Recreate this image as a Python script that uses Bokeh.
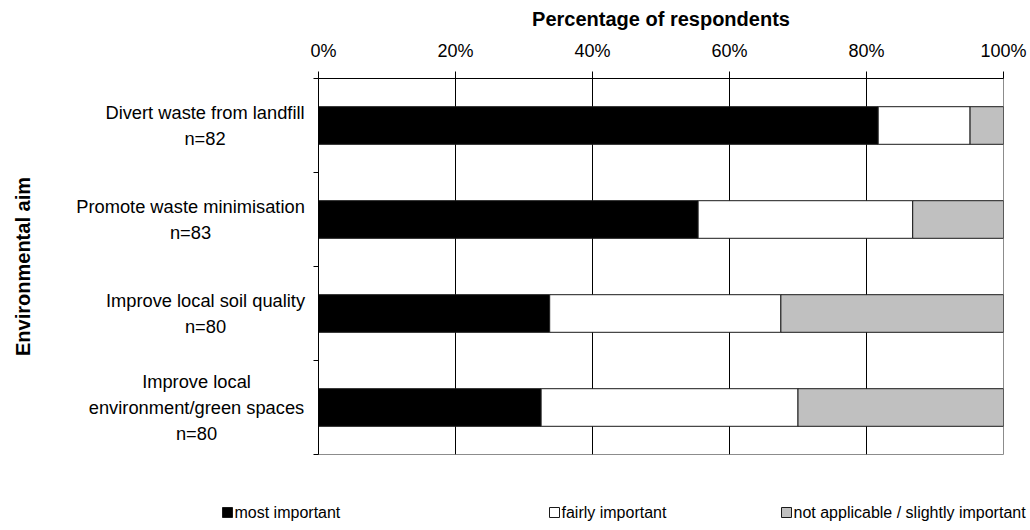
import math
from bokeh.plotting import figure
from bokeh.layouts import column, row
from bokeh.models import FixedTicker, Range1d
from bokeh.core.properties import value
from bokeh.embed import file_html
from bokeh.resources import INLINE

# Survey responses per environmental aim (counts of respondents)
aims = [
    "Divert waste from landfill\nn=82",
    "Promote waste minimisation\nn=83",
    "Improve local soil quality\nn=80",
    "Improve local\nenvironment/green spaces\nn=80",
]
n_resp = [82, 83, 80, 80]
most_important = [67, 46, 27, 26]
fairly_important = [11, 26, 27, 30]
not_applicable = [4, 11, 26, 24]

x_ticks = [0, 20, 40, 60, 80, 100]
x_tick_labels = ["0%", "20%", "40%", "60%", "80%", "100%"]
series_names = ["most important", "fairly important", "not applicable / slightly important"]
series_colors = ["#000000", "#FFFFFF", "#C0C0C0"]

FONT = "Liberation Sans"
BAR_LINE = "#1a1a1a"
TOP, BOTTOM = 78, 30
LABEL_W = 310

# Convert counts to percentages and stack them
pct = [[c / n * 100 for c, n in zip(series, n_resp)]
       for series in (most_important, fairly_important, not_applicable)]
n_cat = len(aims)
ys = [n_cat - i - 0.5 for i in range(n_cat)]
y_range = Range1d(0, n_cat)

# ---- main chart -------------------------------------------------------
p = figure(width=1030 - LABEL_W, height=484, output_backend="svg", toolbar_location=None,
           x_range=Range1d(0, 100), y_range=y_range,
           x_axis_location="above",
           min_border_left=8, min_border_right=27,
           min_border_top=TOP, min_border_bottom=BOTTOM)

left = [0.0] * n_cat
for vals, color in zip(pct, series_colors):
    right = [l + v for l, v in zip(left, vals)]
    p.hbar(y=ys, left=left, right=right, height=0.4,
           fill_color=color, line_color=BAR_LINE, line_width=1)
    left = right

p.outline_line_color = "#8c8c8c"
p.ygrid.visible = False
p.xgrid.ticker = FixedTicker(ticks=[20, 40, 60, 80, 100])
p.xgrid.grid_line_color = "black"
p.xgrid.grid_line_width = 1

xa = p.xaxis[0]
xa.ticker = FixedTicker(ticks=x_ticks)
xa.major_label_overrides = {t: lab for t, lab in zip(x_ticks, x_tick_labels)}
xa.major_label_text_font = FONT
xa.major_label_text_font_size = "18px"
xa.major_label_text_color = "black"
xa.major_label_standoff = 11
xa.major_tick_out = 7
xa.major_tick_in = 0
xa.axis_line_color = "black"
xa.major_tick_line_color = "black"
xa.axis_label = "Percentage of respondents"
xa.axis_label_text_font = FONT
xa.axis_label_text_font_size = "20px"
xa.axis_label_text_font_style = "bold"
xa.axis_label_text_color = "black"
xa.axis_label_standoff = 8

# Left axis only marks the band edges
edge_ticks = list(range(n_cat + 1))
ya = p.yaxis[0]
ya.ticker = FixedTicker(ticks=edge_ticks)
ya.major_label_overrides = {t: "" for t in edge_ticks}
ya.major_label_standoff = 0
ya.major_tick_out = 5
ya.major_tick_in = 0
ya.minor_tick_out = 0
ya.minor_tick_in = 0
ya.major_tick_line_color = "black"
ya.axis_line_color = "black"

# ---- category labels and axis title (shares the chart's y range) ------
lab = figure(width=LABEL_W, height=484, output_backend="svg", toolbar_location=None,
             x_range=Range1d(0, LABEL_W), y_range=y_range,
             x_axis_type=None, y_axis_type=None,
             min_border_left=0, min_border_right=0,
             min_border_top=TOP, min_border_bottom=BOTTOM)
lab.outline_line_color = None
lab.grid.visible = False

label_centres = [204.5, 190, 205, 196]
lab.text(x=label_centres, y=ys, text=aims, text_align="center",
         text_baseline="middle", text_font=value(FONT), text_font_size="18.3px",
         text_color="black", text_line_height=1.25)
lab.text(x=[22], y=[n_cat / 2], text=["Environmental aim"], angle=math.pi / 2,
         text_align="center", text_baseline="middle", text_font=value(FONT),
         text_font_size="20px", text_font_style="bold", text_color="black")

# ---- legend strip ----------------------------------------------------
leg = figure(width=1030, height=46, output_backend="svg", toolbar_location=None,
             x_range=Range1d(0, 1030), y_range=Range1d(0, 46),
             x_axis_type=None, y_axis_type=None, min_border=0)
leg.outline_line_color = None
leg.grid.visible = False

legend_x = [227, 554, 786]
leg.rect(x=legend_x, y=[18] * 3, width=10, height=10,
         fill_color=series_colors, line_color=BAR_LINE, line_width=1)
leg.text(x=[x + 7 for x in legend_x], y=[18] * 3, text=series_names,
         text_align="left", text_baseline="middle", text_font=value(FONT),
         text_font_size="16px", text_color="black")

layout = column(row(lab, p, spacing=0), leg, spacing=0)
open("out.html", "w").write(file_html(layout, INLINE))
